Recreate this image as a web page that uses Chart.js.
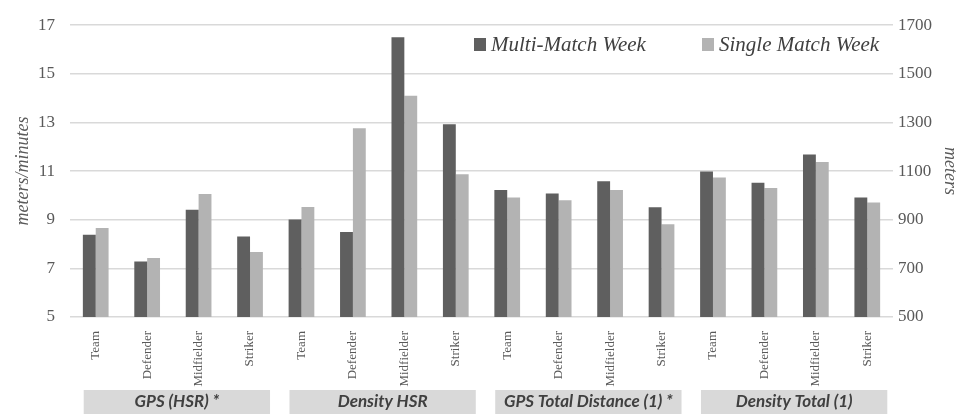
<!DOCTYPE html>
<html>
<head>
<meta charset="utf-8">
<script src="https://cdn.jsdelivr.net/npm/chart.js@4"></script>
<style>
  html, body { margin: 0; padding: 0; background: #fff; }
  #wrap { width: 961px; height: 414px; position: relative; }
</style>
</head>
<body>
<div id="wrap"><canvas id="chart"></canvas></div>
<script>
// kategori per posisi, diulang di 4 grup
const positions = ['Team', 'Defender', 'Midfielder', 'Striker'];
const groups = ['GPS (HSR) *', 'Density HSR', 'GPS Total Distance (1) *', 'Density Total (1)'];
const categories = [].concat(positions, positions, positions, positions);

// grup 1-2 pakai sumbu kiri (meters/minutes)
const multiRate = [8.38, 7.28, 9.41, 8.31, 9.01, 8.5, 16.5, 12.93];
const singleRate = [8.66, 7.43, 10.06, 7.67, 9.52, 12.76, 14.1, 10.87];
// grup 3-4 pakai sumbu kanan (meters)
const multiMeters = [1022, 1008, 1058, 951, 1098, 1052, 1168, 991];
const singleMeters = [991, 980, 1022, 881, 1074, 1030, 1137, 971];

const seriesNames = ['Multi-Match Week', 'Single Match Week'];
const leftTicks = [5, 7, 9, 11, 13, 15, 17];
const rightTicks = [500, 700, 900, 1100, 1300, 1500, 1700];

const DARK = '#5f5f5f';
const LIGHT = '#b3b3b3';
const nulls = new Array(8).fill(null);

const serif = '"Liberation Serif", "DejaVu Serif", serif';

// kotak abu-abu nama grup + legenda custom
const extrasPlugin = {
    id: 'extras',
    afterDraw(chart) {
        const ctx = chart.ctx;
        const x = chart.scales.x;
        ctx.save();
        groups.forEach((name, g) => {
            const left = x.getPixelForValue(g * 4) - 12;
            const right = x.getPixelForValue(g * 4 + 3) + 20;
            ctx.fillStyle = '#d9d9d9';
            ctx.fillRect(left, 390, right - left, 24);
            ctx.fillStyle = '#404040';
            ctx.font = 'italic bold 17px Lato, "Open Sans", sans-serif';
            ctx.textAlign = 'center';
            ctx.textBaseline = 'middle';
            ctx.fillText(name, (left + right) / 2, 402);
        });

        // legenda
        const items = [
            { label: seriesNames[0], color: DARK, x: 474 },
            { label: seriesNames[1], color: LIGHT, x: 702 }
        ];
        items.forEach(it => {
            ctx.fillStyle = it.color;
            ctx.fillRect(it.x, 38, 12, 13);
            ctx.fillStyle = '#404040';
            ctx.font = 'italic 21px ' + serif;
            ctx.textAlign = 'left';
            ctx.textBaseline = 'middle';
            ctx.fillText(it.label, it.x + 17, 45);
        });
        ctx.restore();
    }
};

new Chart(document.getElementById('chart'), {
    type: 'bar',
    data: {
        labels: categories,
        datasets: [
            { label: seriesNames[0], data: multiRate.concat(nulls), backgroundColor: DARK, yAxisID: 'y' },
            { label: seriesNames[0], data: nulls.concat(multiMeters), backgroundColor: DARK, yAxisID: 'y1' },
            { label: seriesNames[1], data: singleRate.concat(nulls), backgroundColor: LIGHT, yAxisID: 'y' },
            { label: seriesNames[1], data: nulls.concat(singleMeters), backgroundColor: LIGHT, yAxisID: 'y1' }
        ]
    },
    options: {
        responsive: true,
        maintainAspectRatio: false,
        animation: false,
        skipNull: true,
        categoryPercentage: 0.5,
        barPercentage: 1,
        layout: { padding: { top: 22, bottom: 0, left: 0, right: 0 } },
        plugins: {
            legend: { display: false },
            tooltip: { enabled: false }
        },
        scales: {
            x: {
                grid: { display: false },
                border: { display: false },
                ticks: {
                    color: '#595959',
                    font: { family: serif, size: 13 },
                    minRotation: 90,
                    maxRotation: 90,
                    autoSkip: false,
                    padding: 6
                },
                afterFit(scale) { scale.height = 97; }
            },
            y: {
                position: 'left',
                min: 5,
                max: 17,
                afterBuildTicks(scale) { scale.ticks = leftTicks.map(v => ({ value: v })); },
                grid: { color: '#d9d9d9', lineWidth: 1.5, drawTicks: false },
                border: { display: false },
                ticks: {
                    color: '#595959',
                    font: { family: serif, size: 17 },
                    padding: 15
                },
                title: {
                    display: true,
                    text: 'meters/minutes',
                    color: '#595959',
                    font: { family: serif, size: 18, style: 'italic' },
                    padding: { top: 12, bottom: 0 }
                },
                afterFit(scale) { scale.width = 70; }
            },
            y1: {
                position: 'right',
                min: 500,
                max: 1700,
                afterBuildTicks(scale) { scale.ticks = rightTicks.map(v => ({ value: v })); },
                grid: { display: false, drawTicks: false },
                border: { display: false },
                ticks: {
                    color: '#595959',
                    font: { family: serif, size: 17 },
                    padding: 5,
                    callback: v => String(v)
                },
                title: {
                    display: true,
                    text: 'meters',
                    color: '#595959',
                    font: { family: serif, size: 18, style: 'italic' },
                    padding: { top: 0, bottom: 0 }
                },
                afterFit(scale) { scale.width = 68; }
            }
        }
    },
    plugins: [extrasPlugin]
});
</script>
</body>
</html>
